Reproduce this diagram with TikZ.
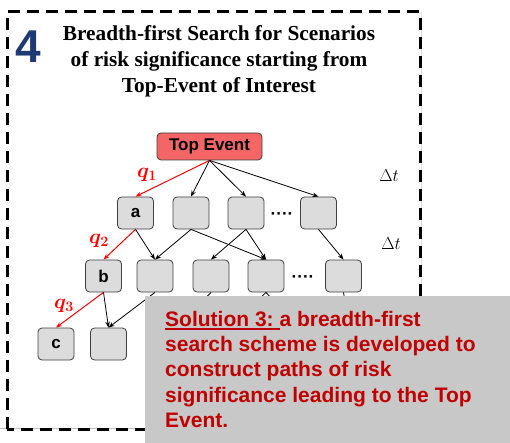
\documentclass[tikz,border=0pt]{standalone}
\usepackage{fontspec}
\usepackage{amsmath,bm}
\setmainfont{Liberation Serif}
\setsansfont{Liberation Sans}
\usetikzlibrary{arrows.meta}
\definecolor{navy}{HTML}{1F3A73}
\definecolor{topred}{HTML}{F46565}
\definecolor{boxgray}{HTML}{DCDCDC}
\definecolor{panelgray}{HTML}{C8C8C8}
\definecolor{darkred}{HTML}{C00000}
% thick underline drawn below a box of text
\newcommand\thickul[1]{\setbox0\hbox{#1}\rlap{\raisebox{-3.5pt}{\rule{\wd0}{1.7pt}}}\box0}
\begin{document}
\begin{tikzpicture}[x=1pt,y=-1pt,
  evt/.style={draw=black!75,fill=boxgray,rounded corners=4pt,line width=0.8pt,
    minimum width=36pt,minimum height=32pt,inner sep=0pt,
    font=\sffamily\bfseries\fontsize{17}{17}\selectfont},
  topevt/.style={draw=black!75,fill=topred,rounded corners=4pt,line width=0.8pt,
    minimum width=105pt,minimum height=27pt,inner sep=0pt,
    font=\sffamily\bfseries\fontsize{17}{17}\selectfont},
  link/.style={line width=0.8pt,-{Stealth[length=6pt,width=4.5pt]}},
  redlink/.style={link,red,line width=1pt},
  qlab/.style={red,font=\fontsize{20}{20}\selectfont},
  dtlab/.style={font=\fontsize{16}{16}\selectfont},
  dots/.style={font=\sffamily\bfseries\fontsize{17}{17}\selectfont},
  titleline/.style={anchor=base,inner sep=0pt,font=\bfseries\fontsize{21.3}{21.3}\selectfont}]
\useasboundingbox (0,0) rectangle (510,443);

% faint guide lines around the frame
\draw[black!25,line width=0.6pt] (0,428) -- (145,428);
\draw[black!12,line width=0.6pt] (421,12) -- (421,296);

% dashed frame
\draw[line width=3pt,dash pattern=on 12pt off 7pt] (7,429) -- (7,12) -- (420,12) -- (420,429) -- cycle;

% title
\node[navy,font=\sffamily\bfseries\fontsize{46}{46}\selectfont] (num) at (28,47) {4};
\node[titleline] (title1) at (219,41) {Breadth-first Search for Scenarios};
\node[titleline] (title2) at (219,67) {of risk significance starting from};
\node[titleline] (title3) at (219,93) {Top-Event of Interest};

% tree nodes
\node[topevt] (te) at (209.5,146.5) {Top Event};

\node[evt] (a)   at (135.5,213) {a};
\node[evt] (r1b) at (191,213) {};
\node[evt] (r1c) at (246,213) {};
\node[evt] (r1d) at (318.5,213) {};
\node[dots] (d1) at (282,216) {····};

\node[evt] (b)   at (103.5,276) {b};
\node[evt] (r2b) at (155,276) {};
\node[evt] (r2c) at (211,276) {};
\node[evt] (r2d) at (266,276) {};
\node[evt] (r2e) at (343.5,276) {};
\node[dots] (d2) at (303,279) {····};

\node[evt] (c)   at (56,344) {c};
\node[evt] (r3b) at (108.5,344) {};

% hidden ends of the lower links
\coordinate (h1) at (175,330);
\coordinate (h2) at (228,330);
\coordinate (h3) at (300,330);
\coordinate (h4) at (350,330);

% links
\draw[redlink] (te.south) -- (a.north);
\draw[link] (te.south) -- (r1b.north);
\draw[link] (te.south) -- (r1c.north);
\draw[link] (te.south) -- (r1d.north);

\draw[redlink] (a.south) -- (b.north);
\draw[link] (a.south) -- (r2b.north);
\draw[link] (r1b.south) -- (r2b.north);
\draw[link] (r1b.south) -- (r2d.north);
\draw[link] (r1c.south) -- (r2c.north);
\draw[link] (r1c.south) -- (r2d.north);
\draw[link] (r1d.south) -- (r2e.north);

\draw[redlink] (b.south) -- (c.north);
\draw[link] (b.south) -- (r3b.north);
\draw[link] (r2b.south) -- (r3b.north);
\draw[line width=0.8pt] (r2c.south) -- (h1);
\draw[line width=0.8pt] (r2d.south) -- (h2);
\draw[line width=0.8pt] (r2d.south) -- (h3);
\draw[line width=0.8pt] (r2e.south) -- (h4);

% link labels
\node[qlab] (q1) at (147,175) {$\bm{q_1}$};
\node[qlab] (q2) at (99,241) {$\bm{q_2}$};
\node[qlab] (q3) at (64,306) {$\bm{q_3}$};
\node[dtlab] (dt1) at (389,176) {$\Delta t$};
\node[dtlab] (dt2) at (391,244) {$\Delta t$};

% solution panel
\fill[panelgray] (145,296) rectangle (510,443);
\node[anchor=north west,align=left,inner sep=0pt,darkred,
  font=\sffamily\bfseries\fontsize{21}{25.2}\selectfont] (sol) at (165,311)
  {\thickul{Solution 3:\ }a breadth-first\\search scheme is developed to\\construct paths of risk\\significance leading to the Top\\Event.};
\end{tikzpicture}
\end{document}
